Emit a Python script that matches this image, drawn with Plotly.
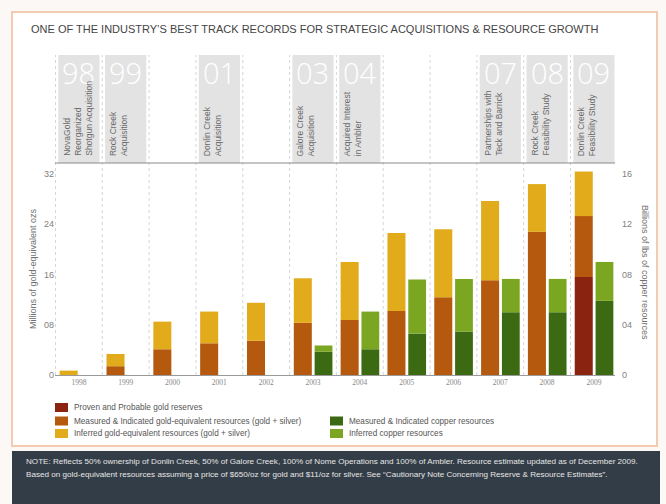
import plotly.graph_objects as go
import numpy as np

# ---------------- data ----------------
years = [1998, 1999, 2000, 2001, 2002, 2003, 2004, 2005, 2006, 2007, 2008, 2009]
gold_pp = [0, 0, 0, 0, 0, 0, 0, 0, 0, 0, 0, 15.6]
gold_mi = [0, 1.4, 4.1, 5.05, 5.45, 8.3, 8.75, 10.2, 12.4, 15.1, 22.8, 9.7]
gold_inf = [0.7, 1.95, 4.4, 5.05, 6.05, 7.1, 9.25, 12.4, 10.8, 12.6, 7.6, 7.1]

cu_years = [2003, 2004, 2005, 2006, 2007, 2008, 2009]
cu_mi = [1.85, 2.05, 3.3, 3.45, 5.0, 5.0, 5.9]
cu_inf = [0.5, 3.0, 4.3, 4.2, 2.65, 2.65, 3.1]

left_ticks = [0, 8, 16, 24, 32]
left_ticktext = ["0", "08", "16", "24", "32"]
right_ticks = [0, 4, 8, 12, 16]
right_ticktext = ["0", "04", "08", "12", "16"]

milestone_years = [1998, 1999, 2001, 2003, 2004, 2007, 2008, 2009]
milestone_nums = ["98", "99", "01", "03", "04", "07", "08", "09"]
milestone_text = [
    "NovaGold<br>Reorganized<br>Shotgun Acquisition",
    "Rock Creek<br>Acquisition",
    "Donlin Creek<br>Acquisition",
    "Galore Creek<br>Acquisition",
    "Acquired Interest<br>in Ambler",
    "Partnerships with<br>Teck and Barrick",
    "Rock Creek<br>Feasibility Study",
    "Donlin Creek<br>Feasibility Study",
]

legend_items = [
    ("Proven and Probable gold reserves", "#8a2410", 0, 0),
    ("Measured & Indicated gold-equivalent resources (gold + silver)", "#b5590f", 0, 1),
    ("Inferred gold-equivalent resources (gold + silver)", "#e1ab1b", 0, 2),
    ("Measured & Indicated copper resources", "#3b6a12", 1, 1),
    ("Inferred copper resources", "#7ba622", 1, 2),
]

C_PP, C_MI, C_INF, C_CMI, C_CINF = "#8a2410", "#b5590f", "#e1ab1b", "#3b6a12", "#7ba622"

# ---------------- geometry helpers (pixels -> paper) ----------------
W, H = 666, 504
PL, PR, PT, PB = 55, 615, 163, 375


def px(x):
    return (x - PL) / (PR - PL)


def py(y):
    return (PB - y) / (PB - PT)


GOLD_OFF, GOLD_W = -0.41, 0.385
CU_OFF, CU_W = 0.035, 0.38

fig = go.Figure()

gp = np.array(gold_pp)
gm = np.array(gold_mi)
fig.add_bar(x=years, y=gold_pp, base=[0] * len(years), offset=GOLD_OFF, width=GOLD_W,
            marker=dict(color=C_PP, line=dict(width=0)), name="P&P", yaxis="y")
fig.add_bar(x=years, y=gold_mi, base=list(gp), offset=GOLD_OFF, width=GOLD_W,
            marker=dict(color=C_MI, line=dict(width=0)), name="M&I gold", yaxis="y")
fig.add_bar(x=years, y=gold_inf, base=list(gp + gm), offset=GOLD_OFF, width=GOLD_W,
            marker=dict(color=C_INF, line=dict(width=0)), name="Inferred gold", yaxis="y")

cm = np.array(cu_mi)
fig.add_bar(x=cu_years, y=cu_mi, base=[0] * len(cu_years), offset=CU_OFF, width=CU_W,
            marker=dict(color=C_CMI, line=dict(width=0)), name="M&I copper", yaxis="y2")
fig.add_bar(x=cu_years, y=cu_inf, base=list(cm), offset=CU_OFF, width=CU_W,
            marker=dict(color=C_CINF, line=dict(width=0)), name="Inferred copper", yaxis="y2")

yscale = 6.28  # px per unit on left axis
ytop = (PB - PT) / yscale

shapes = []
annotations = []

# outer frame
shapes.append(dict(type="rect", xref="paper", yref="paper", x0=px(12), x1=px(657), y0=py(446), y1=py(12),
                   fillcolor="white", line=dict(color="#f2cbb0", width=2), layer="below"))
# footer
shapes.append(dict(type="rect", xref="paper", yref="paper", x0=px(12), x1=px(660), y0=py(506), y1=py(451),
                   fillcolor="#333d47", line=dict(width=0), layer="below"))

# milestone boxes
for yr in milestone_years:
    shapes.append(dict(type="rect", xref="x", yref="paper", x0=yr - 0.44, x1=yr + 0.44,
                       y0=1, y1=py(55), fillcolor="#e3e3e3", line=dict(width=0), layer="below"))

# dotted column separators
for yr in years + [years[-1] + 1]:
    shapes.append(dict(type="line", xref="x", yref="paper", x0=yr - 0.5, x1=yr - 0.5,
                       y0=0, y1=py(55), line=dict(color="#d6d6d6", width=1, dash="dot"), layer="below"))

# top separator line
shapes.append(dict(type="line", xref="paper", yref="paper", x0=0, x1=1, y0=1, y1=1,
                   line=dict(color="#8a8a8a", width=1)))

for yr, num, txt in zip(milestone_years, milestone_nums, milestone_text):
    annotations.append(dict(x=yr, y=py(51), xref="x", yref="paper", text=num, showarrow=False,
                            xanchor="center", yanchor="top",
                            font=dict(family="Open Sans, Lato, sans-serif", size=29, color="white", weight=300)))
    annotations.append(dict(x=yr - 0.44, y=py(158), xref="x", yref="paper", text=txt, showarrow=False,
                            xanchor="left", yanchor="bottom", xshift=1, textangle=-90, align="left",
                            font=dict(family="Liberation Sans, Arial, sans-serif", size=8.5, color="#6a6a6a")))

# title
annotations.append(dict(x=px(29), y=py(29), xref="paper", yref="paper", xanchor="left", yanchor="middle",
                        text="ONE OF THE INDUSTRY\u2019S BEST TRACK RECORDS FOR STRATEGIC ACQUISITIONS &amp; RESOURCE GROWTH",
                        showarrow=False,
                        font=dict(family="Liberation Sans, Arial, sans-serif", size=11, color="#444")))

# axis titles
annotations.append(dict(x=px(33), y=py(269), xref="paper", yref="paper", text="Millions of gold-equivalent ozs",
                        textangle=-90, showarrow=False, xanchor="center", yanchor="middle",
                        font=dict(family="Liberation Sans, Arial, sans-serif", size=9, color="#707070")))
annotations.append(dict(x=px(645), y=py(272), xref="paper", yref="paper", text="Billions of lbs of copper resources",
                        textangle=90, showarrow=False, xanchor="center", yanchor="middle",
                        font=dict(family="Liberation Sans, Arial, sans-serif", size=9, color="#707070")))

# legend
col_sq_x = [55, 330]
row_y = [407.5, 421, 433.5]
for label, color, col, row in legend_items:
    x0 = col_sq_x[col]
    yc = row_y[row]
    shapes.append(dict(type="rect", xref="paper", yref="paper", x0=px(x0), x1=px(x0 + 13),
                       y0=py(yc + 4.5), y1=py(yc - 4.5), fillcolor=color, line=dict(width=0)))
    annotations.append(dict(x=px(x0 + 17), y=py(yc), xref="paper", yref="paper", text=label,
                            showarrow=False, xanchor="left", yanchor="middle",
                            font=dict(family="Liberation Sans, Arial, sans-serif", size=8.2, color="#555")))

# footer note
note1 = ("NOTE: Reflects 50% ownership of Donlin Creek, 50% of Galore Creek, 100% of Nome Operations and 100% of Ambler. "
         "Resource estimate updated as of December 2009.")
note2 = ("Based on gold-equivalent resources assuming a price of $650/oz for gold and $11/oz for silver. "
         "See \u201cCautionary Note Concerning Reserve &amp; Resource Estimates\u201d.")
for i, t in enumerate([note1, note2]):
    annotations.append(dict(x=px(24), y=py(461 + 13 * i), xref="paper", yref="paper", text=t, showarrow=False,
                            xanchor="left", yanchor="middle",
                            font=dict(family="Liberation Sans, Arial, sans-serif", size=8.1,
                                      color="#e6e6e6")))

fig.update_layout(
    width=W, height=H,
    margin=dict(l=PL, r=W - PR, t=PT, b=H - PB, pad=0),
    paper_bgcolor="#fbf8f5",
    plot_bgcolor="rgba(0,0,0,0)",
    barmode="overlay",
    showlegend=False,
    shapes=shapes,
    annotations=annotations,
    xaxis=dict(range=[1997.49, 2009.45], tickvals=years, ticktext=[str(y) for y in years],
               showgrid=False, zeroline=False, showline=True, linecolor="#9a9a9a", linewidth=1,
               ticks="", tickfont=dict(family="Liberation Serif, serif", size=7.5, color="#888"),
               fixedrange=True),
    yaxis=dict(range=[0, ytop], tickvals=left_ticks, ticktext=left_ticktext, showgrid=False,
               zeroline=False, showline=False, ticks="",
               tickfont=dict(family="Liberation Sans, Arial, sans-serif", size=9, color="#808080")),
    yaxis2=dict(range=[0, ytop / 2], tickvals=right_ticks, ticktext=right_ticktext, overlaying="y",
                side="right", showgrid=False, zeroline=False, showline=False, ticks="",
                ticklabelstandoff=6,
                tickfont=dict(family="Liberation Sans, Arial, sans-serif", size=9, color="#808080")),
)

fig.write_html("out.html", config={"displayModeBar": False},
               post_script="document.body.style.margin='0';document.body.style.padding='0';")
